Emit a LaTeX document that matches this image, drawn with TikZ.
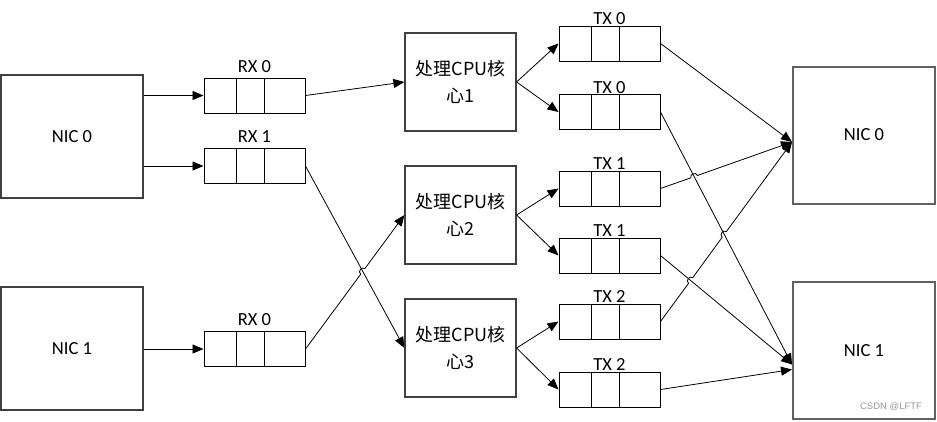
\documentclass[tikz,border=0pt]{standalone}
\usepackage{fontspec}
\setmainfont{Carlito}
\newfontfamily\cjk{Noto Sans CJK SC}
\newfontfamily\wmfont{Liberation Sans}
\usetikzlibrary{arrows.meta,calc,positioning}
\tikzset{
	nicbox/.style={draw=black!75, line width=1.2pt, minimum width=142pt, minimum height=123pt, font=\fontsize{18.5}{22}\selectfont},
	nicrbox/.style={draw=black!62, line width=2pt, minimum width=142pt, minimum height=137pt, font=\fontsize{18.5}{22}\selectfont},
	corebox/.style={draw=black!75, line width=1.2pt, minimum width=111pt, minimum height=98pt, align=center, font=\cjk\fontsize{18}{27}\selectfont},
	queue/.style={draw=black, line width=1pt, minimum width=101pt, minimum height=35pt, inner sep=0pt},
	qlabel/.style={font=\fontsize{18.5}{22}\selectfont, inner sep=0pt},
	arr/.style={line width=0.8pt, -{Triangle[length=11pt,width=9pt]}},
	hop/.style={bend left=90, looseness=1.5},
}
% queue with three slots: name, centre, label, gap to label
\newcommand{\queuebox}[4]{%
	\node[queue] (#1) at (#2) {};
	\node[qlabel, above=#4 of #1] (#1-lbl) {#3};
	\foreach \dx in {33,61}
		\draw[line width=1pt] ([xshift=\dx pt]#1.north west) -- ([xshift=\dx pt]#1.south west);
}

\begin{document}
\begin{tikzpicture}[x=1pt, y=-1pt]
			%%%%% START %%%%%
			\useasboundingbox (0,0) rectangle (937,421);
			
			% network cards, receive side
			\node[nicbox] (nicL0) at (72, 136.5) {NIC 0};
			\node[nicbox] (nicL1) at (72, 348.5) {NIC 1};
			
			% receive queues
			\queuebox{rx0}{254.5, 95.5}{RX 0}{5pt}
			\queuebox{rx1}{254.5, 166}{RX 1}{5pt}
			\queuebox{rx2}{254.5, 349}{RX 0}{5pt}
			
			% cores
			\node[corebox] (c1) at (460.5, 82) {处理CPU核\\心1};
			\node[corebox] (c2) at (460.5, 215) {处理CPU核\\心2};
			\node[corebox] (c3) at (460.5, 348) {处理CPU核\\心3};
			
			% transmit queues
			\queuebox{tx0a}{609.5, 43.5}{TX 0}{0.5pt}
			\queuebox{tx0b}{609.5, 112}{TX 0}{0.5pt}
			\queuebox{tx1a}{609.5, 188.5}{TX 1}{0.5pt}
			\queuebox{tx1b}{609.5, 255.5}{TX 1}{0.5pt}
			\queuebox{tx2a}{609.5, 321.5}{TX 2}{0.5pt}
			\queuebox{tx2b}{609.5, 389.5}{TX 2}{0.5pt}
			
			% network cards, transmit side
			\node[nicrbox] (nicR0) at (864, 135) {NIC 0};
			\node[nicrbox] (nicR1) at (864, 350.5) {NIC 1};
			
			\coordinate (r0in) at ([yshift=-7pt]nicR0.west);
			\coordinate (r1in) at ([yshift=-14pt]nicR1.west);
			\coordinate (r1in2) at ([yshift=-19pt]nicR1.west);
			
			% nic -> rx
			\draw[arr] (nicL0.east |- rx0.west) -- (rx0.west);
			\draw[arr] (nicL0.east |- rx1.west) -- (rx1.west);
			\draw[arr] (nicL1.east |- rx2.west) -- (rx2.west);
			
			% rx -> core
			\draw[arr] (rx0.east) -- (c1.west);
			\draw[arr] (rx1.east) -- (c3.west);
			\coordinate (h1) at (intersection of rx2.east--c2.west and rx1.east--c3.west);
			\draw[arr] (rx2.east) -- ($(h1)!3.5pt!(rx2.east)$) to[hop] ($(h1)!3.5pt!(c2.west)$) -- (c2.west);
			
			% core -> tx
			\draw[arr] (c1.east) -- (tx0a.west);
			\draw[arr] (c1.east) -- (tx0b.west);
			\draw[arr] (c2.east) -- (tx1a.west);
			\draw[arr] (c2.east) -- (tx1b.west);
			\draw[arr] (c3.east) -- (tx2a.west);
			\draw[arr] (c3.east) -- (tx2b.west);
			
			% tx -> nic
			\draw[arr] (tx0a.east) -- (r0in);
			\draw[arr] (tx0b.east) -- (r1in);
			\coordinate (h2) at (intersection of tx1a.east--r0in and tx0b.east--r1in);
			\draw[arr] (tx1a.east) -- ($(h2)!3.5pt!(tx1a.east)$) to[hop] ($(h2)!3.5pt!(r0in)$) -- (r0in);
			\draw[arr] (tx1b.east) -- (r1in);
			\coordinate (h3) at (intersection of tx2a.east--r0in and tx0b.east--r1in);
			\coordinate (h4) at (intersection of tx2a.east--r0in and tx1b.east--r1in);
			\draw[arr] (tx2a.east) -- ($(h4)!3.5pt!(tx2a.east)$) to[hop] ($(h4)!3.5pt!(r0in)$)
				-- ($(h3)!3.5pt!(tx2a.east)$) to[hop] ($(h3)!3.5pt!(r0in)$) -- (r0in);
			\draw[arr] (tx2b.east) -- (r1in2);
			
			\node[font=\wmfont\fontsize{9.5}{11}\selectfont, text=black!40] (wm) at (891, 407) {CSDN @LFTF};
			
			%%%%% END %%%%%
\end{tikzpicture}
\end{document}
